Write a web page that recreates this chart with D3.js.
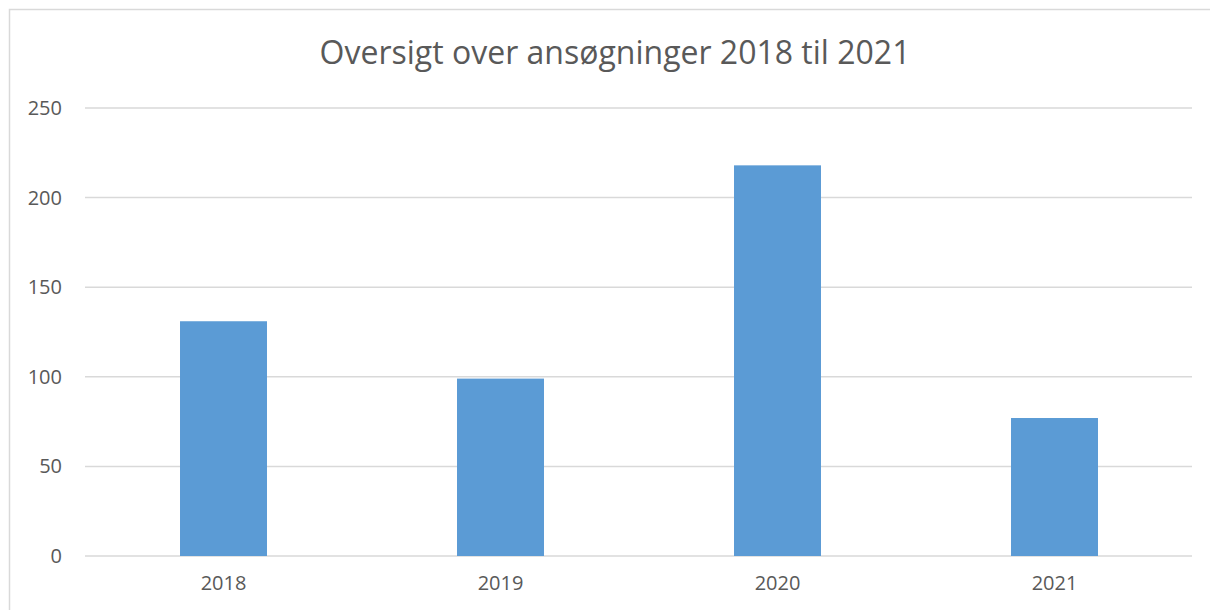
<!DOCTYPE html>
<html>
<head>
<meta charset="utf-8">
<script src="https://cdn.jsdelivr.net/npm/d3@7"></script>
<style>
  body { margin: 0; background: #fff; }
  svg { display: block; }
</style>
</head>
<body>
<div id="chart"></div>
<script>
// oversigt over ansoegninger - simple column chart

const years = ["2018", "2019", "2020", "2021"];
const applications = [131, 99, 218, 77];
const yTicks = [0, 50, 100, 150, 200, 250];
const chartTitle = "Oversigt over ansøgninger 2018 til 2021";

var width = 1210;
var height = 610;
var margin = {top: 108, right: 18, bottom: 54, left: 85};

const svg = d3.select("#chart")
    .append("svg")
    .attr("width", width)
    .attr("height", height);

// chart area border (runs off the right and bottom edge)
svg.append("rect")
    .attr("x", 9.5)
    .attr("y", 9.5)
    .attr("width", width + 20)
    .attr("height", height + 20)
    .style("fill", "none")
    .style("stroke", "#d9d9d9")
    .style("stroke-width", 1.5);

const xScale = d3.scaleBand()
    .domain(years)
    .range([margin.left, 1193])
    .paddingInner(0.686)
    .paddingOuter(0.343);

const yScale = d3.scaleLinear()
    .domain([0, 250])
    .range([556, margin.top]);

// gridlines
svg.append("g")
    .selectAll("line")
    .data(yTicks)
    .enter()
    .append("line")
        .attr("x1", margin.left)
        .attr("x2", 1192)
        .attr("y1", d => yScale(d))
        .attr("y2", d => yScale(d))
        .style("stroke", "#d9d9d9")
        .style("stroke-width", 1.5);

// bars
svg.append("g")
    .selectAll("rect")
    .data(applications)
    .enter()
    .append("rect")
        .attr("x", (d, i) => xScale(years[i]))
        .attr("y", d => yScale(d))
        .attr("width", xScale.bandwidth())
        .attr("height", d => yScale(0) - yScale(d))
        .style("fill", "#5b9bd5");

// y axis labels
const yAxis = d3.axisLeft(yScale)
    .tickValues(yTicks)
    .tickSize(0)
    .tickPadding(0);

svg.append("g")
    .attr("transform", "translate(62,0)")
    .call(yAxis)
    .call(g => g.select(".domain").remove())
    .call(g => g.selectAll("text")
        .style("font-family", "'Open Sans', sans-serif")
        .style("font-size", "20px")
        .style("fill", "#595959"));

// x axis labels
const xAxis = d3.axisBottom(xScale)
    .tickSize(0)
    .tickPadding(0);

svg.append("g")
    .attr("transform", "translate(0,576)")
    .call(xAxis)
    .call(g => g.select(".domain").remove())
    .call(g => g.selectAll("text")
        .style("font-family", "'Open Sans', sans-serif")
        .style("font-size", "20px")
        .style("fill", "#595959"));

// title
svg.append("text")
    .attr("x", 615)
    .attr("y", 64)
    .attr("text-anchor", "middle")
    .style("font-family", "'Open Sans', sans-serif")
    .style("font-size", "32px")
    .style("fill", "#595959")
    .text(chartTitle);
</script>
</body>
</html>
